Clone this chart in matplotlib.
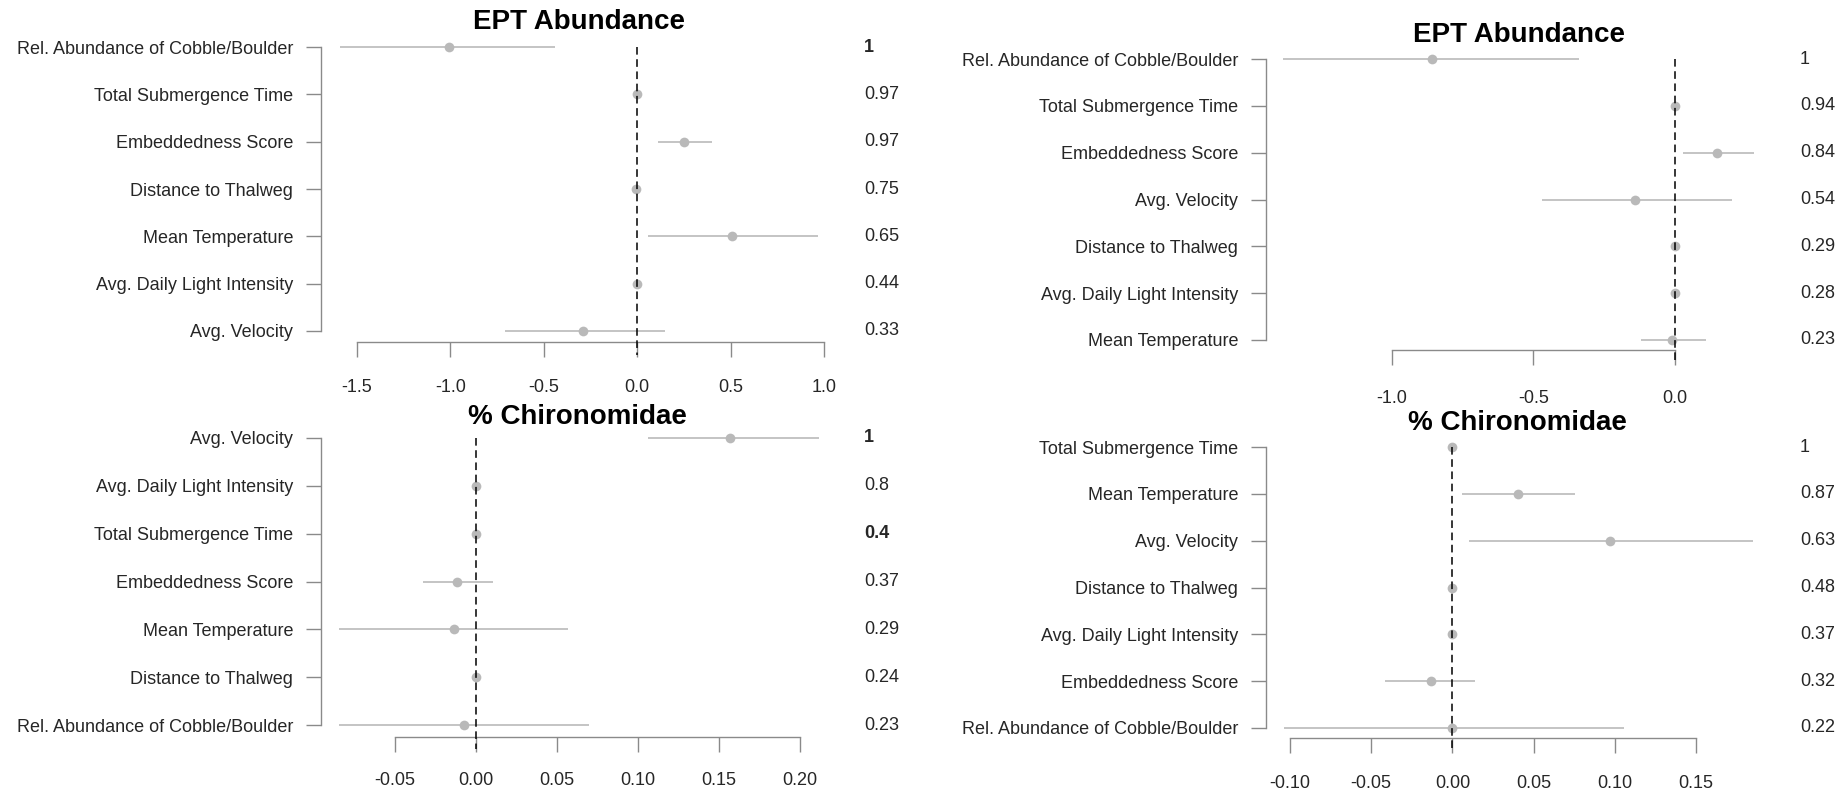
import matplotlib
matplotlib.use("Agg")
import matplotlib.pyplot as plt
import matplotlib.transforms as mtransforms

plt.rcParams['font.family'] = ['Liberation Sans', 'DejaVu Sans']

W, H = 1849, 793

# ---- data (top row first) ----
ept_l_labels = ["Rel. Abundance of Cobble/Boulder", "Total Submergence Time", "Embeddedness Score",
                "Distance to Thalweg", "Mean Temperature", "Avg. Daily Light Intensity", "Avg. Velocity"]
ept_l_est = [-1.01, 0.0, 0.25, -0.005, 0.51, 0.0, -0.29]
ept_l_lo = [-1.59, 0.0, 0.11, -0.005, 0.06, 0.0, -0.71]
ept_l_hi = [-0.44, 0.0, 0.40, -0.005, 0.97, 0.0, 0.15]
ept_l_imp = ["1", "0.97", "0.97", "0.75", "0.65", "0.44", "0.33"]

ept_r_labels = ["Rel. Abundance of Cobble/Boulder", "Total Submergence Time", "Embeddedness Score",
                "Avg. Velocity", "Distance to Thalweg", "Avg. Daily Light Intensity", "Mean Temperature"]
ept_r_est = [-0.86, 0.0, 0.15, -0.14, 0.0, 0.0, -0.01]
ept_r_lo = [-1.385, 0.0, 0.03, -0.47, 0.0, 0.0, -0.12]
ept_r_hi = [-0.34, 0.0, 0.28, 0.20, 0.0, 0.0, 0.11]
ept_r_imp = ["1", "0.94", "0.84", "0.54", "0.29", "0.28", "0.23"]

chi_l_labels = ["Avg. Velocity", "Avg. Daily Light Intensity", "Total Submergence Time", "Embeddedness Score",
                "Mean Temperature", "Distance to Thalweg", "Rel. Abundance of Cobble/Boulder"]
chi_l_est = [0.157, 0.0, 0.0, -0.0117, -0.0135, 0.0, -0.0071]
chi_l_lo = [0.106, 0.0, 0.0, -0.033, -0.0844, 0.0, -0.0844]
chi_l_hi = [0.2117, 0.0, 0.0, 0.0103, 0.0567, 0.0, 0.0699]
chi_l_imp = ["1", "0.8", "0.4", "0.37", "0.29", "0.24", "0.23"]

chi_r_labels = ["Total Submergence Time", "Mean Temperature", "Avg. Velocity", "Distance to Thalweg",
                "Avg. Daily Light Intensity", "Embeddedness Score", "Rel. Abundance of Cobble/Boulder"]
chi_r_est = [0.0, 0.0403, 0.097, 0.0, 0.0, -0.013, 0.0]
chi_r_lo = [0.0, 0.006, 0.0104, 0.0, 0.0, -0.0418, -0.1034]
chi_r_hi = [0.0, 0.0757, 0.185, 0.0, 0.0, 0.0142, 0.1056]
chi_r_imp = ["1", "0.87", "0.63", "0.48", "0.37", "0.32", "0.22"]

ept_l_ticks = [-1.5, -1.0, -0.5, 0.0, 0.5, 1.0]
ept_r_ticks = [-1.0, -0.5, 0.0]
chi_l_ticks = [-0.05, 0.00, 0.05, 0.10, 0.15, 0.20]
chi_r_ticks = [-0.10, -0.05, 0.00, 0.05, 0.10, 0.15]

# layout in pixels: spine x, right x, (value a -> px a), (value b -> px b), row0 y, row6 y, axis y,
# value text x, title centre (x, y), x tick label pad
panels = [
    dict(title="EPT Abundance", labels=ept_l_labels, est=ept_l_est, lo=ept_l_lo, hi=ept_l_hi,
         imp=ept_l_imp, bold=["1"], ticks=ept_l_ticks, fmt="%.1f",
         sx=321, rx=845, va=(-1.5, 357), vb=(1.0, 824), y0=47, y6=331, ya=342,
         tx=864, title_xy=(579, 22), xpad=15.5),
    dict(title="EPT Abundance", labels=ept_r_labels, est=ept_r_est, lo=ept_r_lo, hi=ept_r_hi,
         imp=ept_r_imp, bold=[], ticks=ept_r_ticks, fmt="%.1f",
         sx=1266, rx=1790, va=(-1.0, 1392), vb=(0.0, 1675), y0=59, y6=340, ya=350,
         tx=1800, title_xy=(1519, 35), xpad=17.5),
    dict(title="% Chironomidae", labels=chi_l_labels, est=chi_l_est, lo=chi_l_lo, hi=chi_l_hi,
         imp=chi_l_imp, bold=["1", "0.4"], ticks=chi_l_ticks, fmt="%.2f",
         sx=321, rx=845, va=(-0.05, 395), vb=(0.20, 800), y0=438, y6=725, ya=737,
         tx=864, title_xy=(577, 417), xpad=14),
    dict(title="% Chironomidae", labels=chi_r_labels, est=chi_r_est, lo=chi_r_lo, hi=chi_r_hi,
         imp=chi_r_imp, bold=[], ticks=chi_r_ticks, fmt="%.2f",
         sx=1266, rx=1790, va=(-0.10, 1290), vb=(0.15, 1696), y0=447, y6=728, ya=738,
         tx=1800, title_xy=(1517, 423), xpad=15.5),
]

axis_grey = "#8a8a8a"
ci_grey = "#c4c4c4"
pt_grey = "#b9b9b9"
text_col = "#262626"

fig = plt.figure(figsize=(W / 100, H / 100), dpi=100)

for p in panels:
    n = len(p["labels"])
    step = (p["y6"] - p["y0"]) / (n - 1)
    top_pad = 0.35
    y_top = p["y0"] - top_pad * step
    rect = [p["sx"] / W, 1 - p["ya"] / H, (p["rx"] - p["sx"]) / W, (p["ya"] - y_top) / H]
    ax = fig.add_axes(rect)
    ax.patch.set_alpha(0)

    (v1, x1), (v2, x2) = p["va"], p["vb"]
    scale = (v2 - v1) / (x2 - x1)
    ax.set_xlim(v1 + (p["sx"] - x1) * scale, v1 + (p["rx"] - x1) * scale)
    ax.set_ylim(n - 1 + (p["ya"] - p["y6"]) / step, -top_pad)

    rows = list(range(n))
    ax.hlines(rows, p["lo"], p["hi"], color=ci_grey, lw=1.4, zorder=2)
    ax.plot(p["est"], rows, "o", color=pt_grey, ms=7, mec="none", zorder=3)
    ax.plot([0, 0], [0, n - 1 + 0.5], color="black", lw=1.1, ls=(0, (5, 3)),
            clip_on=False, zorder=4)

    for s in ["top", "right"]:
        ax.spines[s].set_visible(False)
    ax.spines["left"].set_bounds(0, n - 1)
    ax.spines["bottom"].set_bounds(p["ticks"][0], p["ticks"][-1])
    for s in ["left", "bottom"]:
        ax.spines[s].set_color(axis_grey)
        ax.spines[s].set_linewidth(1.0)

    ax.set_yticks(rows)
    ax.set_yticklabels(p["labels"], fontsize=13, color=text_col)
    ax.set_xticks(p["ticks"])
    ax.set_xticklabels([p["fmt"] % t for t in p["ticks"]], fontsize=13, color=text_col)
    ax.tick_params(axis="y", length=11, width=1.0, color=axis_grey, pad=9)
    ax.tick_params(axis="x", length=11, width=1.0, color=axis_grey, pad=p["xpad"])

    tr = mtransforms.blended_transform_factory(fig.transFigure, ax.transData)
    for r, v in zip(rows, p["imp"]):
        ax.text(p["tx"] / W, r, v, transform=tr, ha="left", va="center", fontsize=13,
                color=text_col, fontweight="bold" if v in p["bold"] else "normal")

    tx, ty = p["title_xy"]
    fig.text(tx / W, 1 - ty / H, p["title"], ha="center", va="center", fontsize=20,
             fontweight="bold", color="black")

fig.savefig("out.png", dpi=100)
